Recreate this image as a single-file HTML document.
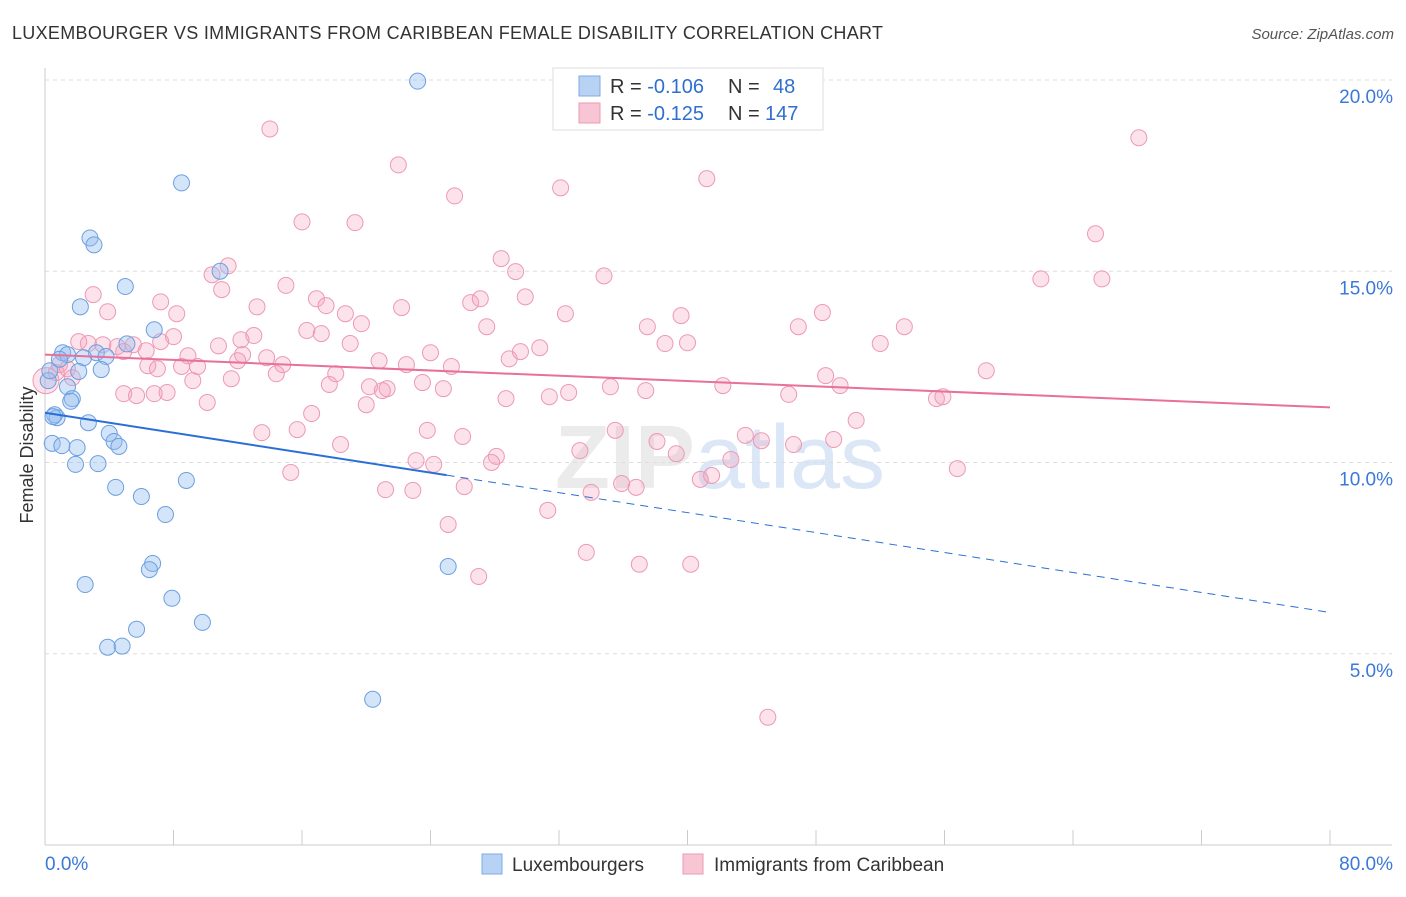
<!DOCTYPE html>
<html><head><meta charset="utf-8"><style>
body{margin:0;background:#fff;font-family:"Liberation Sans",sans-serif;}
svg text{font-family:"Liberation Sans",sans-serif;}
</style></head><body>
<svg id="chart" width="1406" height="892" xmlns="http://www.w3.org/2000/svg">
<text x="12" y="39" font-size="18" fill="#333" textLength="871" lengthAdjust="spacing">LUXEMBOURGER VS IMMIGRANTS FROM CARIBBEAN FEMALE DISABILITY CORRELATION CHART</text>
<text x="1394" y="39" font-size="15" fill="#555" text-anchor="end" font-style="italic">Source: ZipAtlas.com</text>
<text x="720" y="488" font-size="90" text-anchor="middle" fill="#d8d8d8" font-weight="bold" opacity="0.5">ZIP<tspan fill="#b8d0ee" font-weight="normal">atlas</tspan></text>
<g id="grid"></g><g id="axes"></g><g id="pts"></g><g id="trend"></g>
<text transform="translate(33,455) rotate(-90)" font-size="18" fill="#333" text-anchor="middle">Female Disability</text>
<g>
<rect x="553" y="68" width="270" height="62" fill="#fff" stroke="#ddd"/>
<rect x="579" y="76" width="21" height="20" fill="#b8d2f3" stroke="#7fa9e0"/>
<rect x="579" y="103" width="21" height="20" fill="#f8c5d4" stroke="#ec9ab3"/>
<text x="610" y="93" font-size="20" fill="#333">R = <tspan fill="#2f6fd0">-0.106</tspan><tspan x="728">N = </tspan><tspan x="773" fill="#2f6fd0">48</tspan></text>
<text x="610" y="120" font-size="20" fill="#333">R = <tspan fill="#2f6fd0">-0.125</tspan><tspan x="728">N = </tspan><tspan x="765" fill="#2f6fd0">147</tspan></text>
</g>
<g>
<rect x="482" y="854" width="20" height="20" fill="#b8d2f3" stroke="#7fa9e0"/>
<text x="512" y="871" font-size="19" fill="#333">Luxembourgers</text>
<rect x="683" y="854" width="20" height="20" fill="#f8c5d4" stroke="#ec9ab3"/>
<text x="714" y="871" font-size="19" fill="#333">Immigrants from Caribbean</text>
</g>
</svg>
<script>
const blueX=[23.2,8.5,2.8,3.05,5.0,10.9,2.2,6.8,5.1,1.1,1.4,3.2,3.8,2.4,2.1,3.5,1.4,1.7,0.6,0.75,2.7,0.45,1.05,2.0,4.0,4.3,4.6,1.9,3.3,4.4,6.0,8.8,7.5,6.7,6.5,2.5,7.9,9.8,5.7,3.9,4.8,20.4,25.1,0.2,0.3,0.9,1.6,0.5];
const blueY=[19.97,17.31,15.87,15.69,14.6,15.0,14.07,13.47,13.1,12.87,12.82,12.87,12.77,12.74,12.38,12.43,11.98,11.67,11.25,11.17,11.04,10.5,10.44,10.39,10.76,10.55,10.42,9.95,9.97,9.35,9.11,9.53,8.64,7.36,7.2,6.81,6.45,5.82,5.64,5.17,5.2,3.81,7.28,12.14,12.4,12.7,11.6,11.2];
const pinkX=[14.0,22.0,25.5,32.1,41.2,68.1,16.0,19.3,65.4,28.4,29.3,34.8,62.0,65.8,11.4,10.4,11.0,15.0,3.0,7.2,13.2,16.9,17.5,18.7,22.2,26.5,27.1,29.9,32.4,39.6,48.4,3.9,8.2,19.7,27.5,37.5,46.9,53.5,16.3,17.2,13.0,8.0,12.2,2.1,2.7,3.6,4.5,5.5,7.2,10.8,19.0,30.8,38.6,40.0,52.0,4.9,6.3,8.9,12.3,13.8,24.0,28.9,29.6,6.4,7.0,8.5,9.5,12.0,14.8,20.8,22.5,25.3,0.9,0.7,1.4,14.4,18.1,1.7,9.2,11.6,17.7,20.2,21.3,21.0,23.5,24.8,35.2,37.4,42.2,48.6,49.5,58.6,4.9,5.7,6.8,7.6,28.7,31.4,32.6,46.3,55.5,55.9,10.1,20.0,16.6,50.5,13.5,15.7,23.8,18.4,26.0,35.5,38.1,43.6,44.6,46.6,49.1,33.3,39.3,42.7,23.1,24.2,28.1,27.8,56.8,15.3,41.5,40.8,35.9,36.8,26.1,21.2,22.9,34.0,31.3,25.1,33.7,37.0,40.2,27.0,45.0,0.06];
const pinkY=[18.72,17.78,16.97,17.18,17.42,18.49,16.29,16.27,15.98,15.33,14.99,14.88,14.8,14.8,15.14,14.91,14.52,14.63,14.39,14.2,14.07,14.28,14.1,13.89,14.05,14.18,14.28,14.33,13.89,13.84,13.92,13.94,13.89,13.63,13.55,13.55,13.55,13.55,13.45,13.37,13.32,13.29,13.21,13.16,13.11,13.08,13.03,13.08,13.16,13.05,13.11,13.0,13.11,13.13,13.11,12.9,12.92,12.79,12.82,12.74,12.87,12.71,12.9,12.53,12.45,12.51,12.51,12.66,12.56,12.66,12.56,12.51,12.56,12.35,12.45,12.32,12.32,12.22,12.14,12.19,12.04,11.98,11.93,11.88,12.09,11.93,11.98,11.88,12.01,12.27,12.01,12.4,11.8,11.75,11.8,11.83,11.67,11.72,11.83,11.78,11.67,11.72,11.57,11.51,11.28,11.1,10.78,10.86,10.84,10.47,10.68,10.84,10.55,10.71,10.57,10.47,10.6,10.31,10.23,10.08,10.05,9.95,10.16,10.0,9.84,9.74,9.66,9.56,9.45,9.35,9.37,9.29,9.27,9.22,8.75,8.38,7.65,7.34,7.34,7.02,3.34,12.14];
const yTicks=[5,10,15,20];
const yTickLabels=["5.0%","10.0%","15.0%","20.0%"];
const blueTrend=[11.3,6.08];
const pinkTrend=[12.82,11.44];
const blueSolidEnd=25;
const NS="http://www.w3.org/2000/svg";
const X=v=>45+v*(1285/80), Y=v=>845-v*38.25;
function mk(t,a,p){const e=document.createElementNS(NS,t);for(const k in a)e.setAttribute(k,a[k]);p.appendChild(e);return e;}
const grid=document.getElementById('grid'),axes=document.getElementById('axes'),pts=document.getElementById('pts'),tr=document.getElementById('trend');
yTicks.forEach((t,i)=>{const l=mk('line',{x1:45,x2:1392,y1:Y(t),y2:Y(t),stroke:'#ddd','stroke-dasharray':'4,4'},grid);

const tx=mk('text',{x:1393,y:Y(t)+23,'font-size':19,fill:'#3b78d8','text-anchor':'end'},axes);tx.textContent=yTickLabels[i];
});
const ax=mk('line',{x1:45,x2:1392,y1:845,y2:845,stroke:'#ccc'},axes);
const ay=mk('line',{x1:45,x2:45,y1:68,y2:845,stroke:'#ccc'},axes);
for(let i=0;i<=10;i++){const t=mk('line',{x1:X(i*8),x2:X(i*8),y1:830,y2:845,stroke:'#ccc'},axes);}
const xl0=mk('text',{x:45,y:870,'font-size':19,fill:'#3b78d8'},axes);xl0.textContent='0.0%';
const xl1=mk('text',{x:1393,y:870,'font-size':19,fill:'#3b78d8','text-anchor':'end'},axes);xl1.textContent='80.0%';
pinkX.forEach((x,i)=>{const c=mk('circle',{cx:X(x),cy:Y(pinkY[i]),r:i==pinkX.length-1?13:8,fill:'rgba(244,160,188,0.3)',stroke:'#ec9ab3','stroke-width':1},pts);
});
blueX.forEach((x,i)=>{const c=mk('circle',{cx:X(x),cy:Y(blueY[i]),r:8,fill:'rgba(150,190,240,0.4)',stroke:'#6b9fe0','stroke-width':1},pts);
});
const bAt=x=>blueTrend[0]+(blueTrend[1]-blueTrend[0])*x/80;
const b1=mk('line',{x1:X(0),y1:Y(bAt(0)),x2:X(blueSolidEnd),y2:Y(bAt(blueSolidEnd)),stroke:'#2a6fd6','stroke-width':2},tr);

const b2=mk('line',{x1:X(blueSolidEnd),y1:Y(bAt(blueSolidEnd)),x2:X(80),y2:Y(bAt(80)),stroke:'#2a6fd6','stroke-width':1,'stroke-dasharray':'8,6'},tr);

const p1=mk('line',{x1:X(0),y1:Y(pinkTrend[0]),x2:X(80),y2:Y(pinkTrend[1]),stroke:'#e8709a','stroke-width':2},tr);

</script>
</body></html>
